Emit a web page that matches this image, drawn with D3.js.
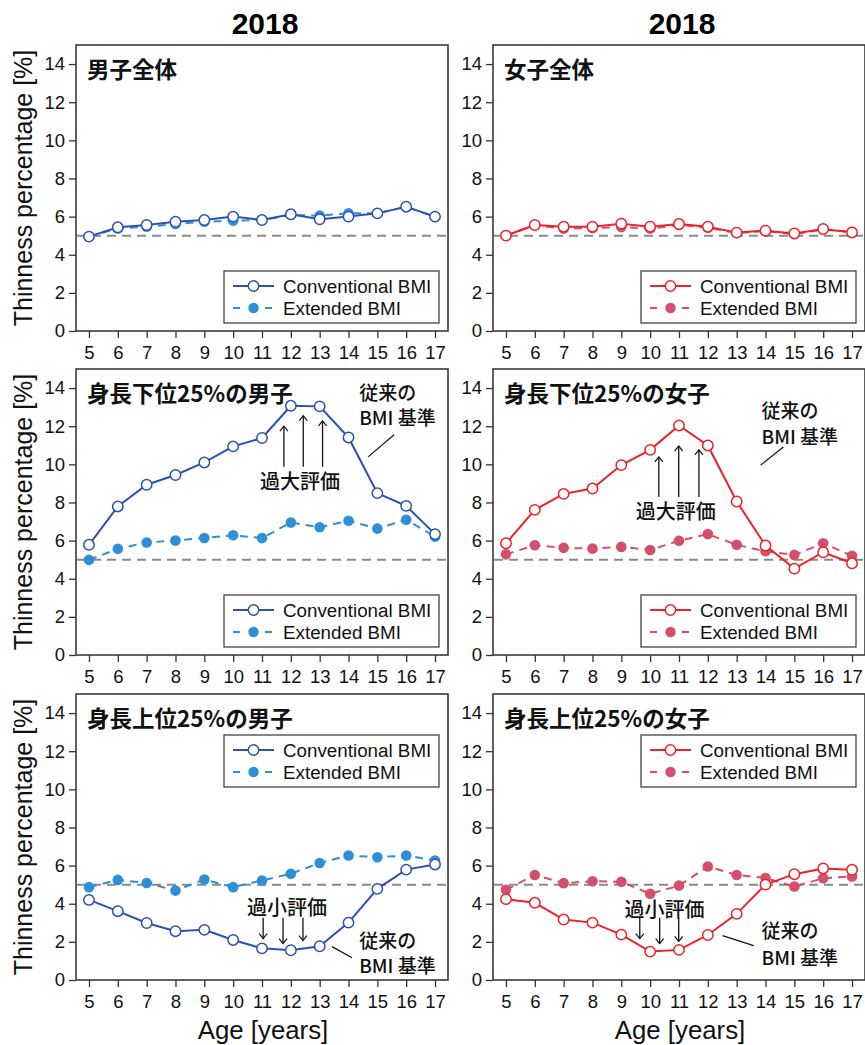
<!DOCTYPE html>
<html>
<head>
<meta charset="utf-8">
<script src="https://cdn.jsdelivr.net/npm/d3@7"></script>
<style>
  body { margin: 0; background: #fff; }
  svg { display: block; }
</style>
</head>
<body>
<div id="chart"></div>
<script>
// ages on the x axis
const ages = [5, 6, 7, 8, 9, 10, 11, 12, 13, 14, 15, 16, 17];
const yTicks = [0, 2, 4, 6, 8, 10, 12, 14];
const columnTitles = ["2018", "2018"];
const panelTitles = ["男子全体", "女子全体", "身長下位25%の男子", "身長下位25%の女子", "身長上位25%の男子", "身長上位25%の女子"];
const seriesNames = ["Conventional BMI", "Extended BMI"];
const refLine = 5;

// thinness percentage [%]
const boysAllConv   = [4.95, 5.44, 5.56, 5.73, 5.82, 6.0, 5.82, 6.12, 5.86, 6.0, 6.17, 6.52, 6.0];
const boysAllExt    = [4.95, 5.38, 5.47, 5.61, 5.73, 5.79, 5.82, 6.08, 6.05, 6.17, 6.17, 6.52, 5.98];
const girlsAllConv  = [5.0, 5.56, 5.47, 5.47, 5.63, 5.47, 5.61, 5.47, 5.16, 5.26, 5.12, 5.35, 5.17];
const girlsAllExt   = [5.0, 5.56, 5.37, 5.4, 5.45, 5.37, 5.56, 5.42, 5.14, 5.24, 5.08, 5.33, 5.2];
const boysShortConv = [5.78, 7.79, 8.93, 9.44, 10.1, 10.94, 11.38, 13.07, 13.04, 11.41, 8.49, 7.82, 6.34];
const boysShortExt  = [4.99, 5.57, 5.9, 6.0, 6.14, 6.28, 6.13, 6.95, 6.7, 7.04, 6.63, 7.09, 6.21];
const girlsShortConv = [5.86, 7.61, 8.45, 8.73, 9.96, 10.76, 12.04, 10.99, 8.05, 5.74, 4.53, 5.39, 4.81];
const girlsShortExt  = [5.28, 5.76, 5.62, 5.58, 5.67, 5.51, 5.99, 6.34, 5.78, 5.44, 5.25, 5.86, 5.2];
const boysTallConv  = [4.2, 3.61, 2.99, 2.56, 2.63, 2.1, 1.66, 1.56, 1.77, 3.01, 4.78, 5.79, 6.06];
const boysTallExt   = [4.87, 5.25, 5.09, 4.69, 5.27, 4.87, 5.22, 5.57, 6.14, 6.53, 6.44, 6.53, 6.27];
const girlsTallConv = [4.24, 4.05, 3.17, 3.01, 2.38, 1.49, 1.58, 2.36, 3.47, 5.0, 5.55, 5.85, 5.78];
const girlsTallExt  = [4.73, 5.51, 5.08, 5.18, 5.15, 4.52, 4.95, 5.95, 5.51, 5.35, 4.9, 5.34, 5.43];

// annotation anchors in data units [age, %]
const arrowAges   = [[11.76, 12.43, 13.1], [10.3, 10.99, 11.69], [11.04, 11.73, 12.42], [9.64, 10.33, 10.99]];
const arrowFrom   = [[9.87, 9.87, 9.87], [8.29, 8.29, 8.29], [3.27, 3.27, 3.27], [3.27, 3.27, 3.27]];
const arrowTo     = [[12.0, 12.55, 12.28], [10.39, 10.96, 10.76], [2.17, 1.91, 2.07], [2.17, 1.91, 2.02]];
const evalText    = ["過大評価", "過大評価", "過小評価", "過小評価"];
const evalPos     = [[12.32, 9.08], [10.89, 7.5], [11.87, 3.79], [10.5, 3.69]];
const noteLines   = ["従来の", "BMI 基準"];
const notePos     = [[14.37, 13.75, 12.44], [13.86, 12.8, 11.43], [14.37, 2.06, 0.7], [13.86, 2.54, 1.17]];
const leaderLines = [[14.68, 10.39, 15.58, 11.55], [13.83, 9.96, 14.62, 10.91], [13.43, 1.75, 14.12, 1.17], [12.51, 2.33, 13.59, 1.8]];

const panels = [
  { conv: boysAllConv, ext: boysAllExt, boy: true, legendTop: false, note: -1 },
  { conv: girlsAllConv, ext: girlsAllExt, boy: false, legendTop: false, note: -1 },
  { conv: boysShortConv, ext: boysShortExt, boy: true, legendTop: false, note: 0 },
  { conv: girlsShortConv, ext: girlsShortExt, boy: false, legendTop: false, note: 1 },
  { conv: boysTallConv, ext: boysTallExt, boy: true, legendTop: true, note: 2 },
  { conv: girlsTallConv, ext: girlsTallExt, boy: false, legendTop: true, note: 3 }
];

const colors = {
  boyConv: "#2a52b2", boyExt: "#2f8fd6",
  girlConv: "#ea2328", girlExt: "#d44f69"
};

const W = 865, H = 1045;
const colX = [76, 493];
const rowY = [45, 369, 694];
const pw = 372, ph = 286;
const latin = "'Liberation Sans', Arial, sans-serif";
const cjk = "'Noto Sans CJK JP', 'Noto Sans', sans-serif";

const svg = d3.select("#chart").append("svg")
  .attr("width", W).attr("height", H);

svg.append("defs").append("marker")
  .attr("id", "arrowhead")
  .attr("viewBox", "-6 -5 7 10")
  .attr("refX", 0).attr("refY", 0)
  .attr("markerWidth", 7).attr("markerHeight", 10)
  .attr("markerUnits", "userSpaceOnUse")
  .attr("orient", "auto")
  .append("path")
  .attr("d", "M-5,-4 L0,0 L-5,4")
  .attr("fill", "none")
  .attr("stroke", "#111")
  .attr("stroke-width", 1.2);

// column titles
columnTitles.forEach((t, i) => {
  svg.append("text")
    .attr("x", colX[i] + pw / 2 + 3).attr("y", 34)
    .attr("text-anchor", "middle")
    .attr("font-family", latin).attr("font-weight", "bold").attr("font-size", 30)
    .text(t);
});

panels.forEach((p, i) => {
  const col = i % 2, row = Math.floor(i / 2);
  const g = svg.append("g").attr("transform", `translate(${colX[col]},${rowY[row]})`);

  const x = d3.scaleLinear().domain([4.55, 17.45]).range([0, pw]);
  const y = d3.scaleLinear().domain([0, 15]).range([ph, 0]);

  const cConv = p.boy ? colors.boyConv : colors.girlConv;
  const cExt = p.boy ? colors.boyExt : colors.girlExt;

  // axes
  const xAxis = g.append("g").attr("transform", `translate(0,${ph})`)
    .call(d3.axisBottom(x).tickValues(ages).tickSize(7).tickPadding(4).tickFormat(d3.format("d")));
  const yAxis = g.append("g")
    .call(d3.axisLeft(y).tickValues(yTicks).tickSize(7).tickPadding(4));
  [xAxis, yAxis].forEach(a => {
    a.select(".domain").remove();
    a.selectAll("line").attr("stroke", "#333").attr("stroke-width", 1.3);
    a.selectAll("text").attr("font-family", latin).attr("font-size", 18.5).attr("fill", "#111");
  });
  xAxis.selectAll("text").attr("dy", "0.9em");

  // frame
  g.append("rect")
    .attr("width", pw).attr("height", ph)
    .attr("fill", "none").attr("stroke", "#3a3a3a").attr("stroke-width", 1.6);

  // reference line at 5%
  g.append("line")
    .attr("x1", 1).attr("x2", pw - 1)
    .attr("y1", y(refLine)).attr("y2", y(refLine))
    .attr("stroke", "#8a8a8a").attr("stroke-width", 2)
    .attr("stroke-dasharray", "9,6");

  const line = d3.line().x((d, j) => x(ages[j])).y(d => y(d));

  // extended BMI (dashed, filled dots)
  g.append("path").datum(p.ext)
    .attr("d", line).attr("fill", "none")
    .attr("stroke", cExt).attr("stroke-width", 2).attr("stroke-dasharray", "8,6");
  g.append("g").selectAll("circle").data(p.ext).join("circle")
    .attr("cx", (d, j) => x(ages[j])).attr("cy", d => y(d))
    .attr("r", 5.3).attr("fill", cExt);

  // conventional BMI (solid, open circles)
  g.append("path").datum(p.conv)
    .attr("d", line).attr("fill", "none")
    .attr("stroke", cConv).attr("stroke-width", 2);
  g.append("g").selectAll("circle").data(p.conv).join("circle")
    .attr("cx", (d, j) => x(ages[j])).attr("cy", d => y(d))
    .attr("r", 5.2).attr("fill", "#fff").attr("stroke", cConv).attr("stroke-width", 1.5);

  // panel label
  g.append("text")
    .attr("x", 11).attr("y", 33)
    .attr("font-family", cjk).attr("font-weight", "bold").attr("font-size", 22.5)
    .attr("fill", "#111")
    .text(panelTitles[i]);

  // legend
  const lw = 215, lh = 52;
  const lx = pw - 9 - lw;
  const ly = p.legendTop ? 41 : ph - 8 - lh;
  const lg = g.append("g").attr("transform", `translate(${lx},${ly})`);
  lg.append("rect").attr("width", lw).attr("height", lh)
    .attr("fill", "#fff").attr("stroke", "#444").attr("stroke-width", 1.3);
  seriesNames.forEach((name, k) => {
    const yy = 15 + k * 22;
    const c = k === 0 ? cConv : cExt;
    lg.append("line").attr("x1", 9).attr("x2", 50).attr("y1", yy).attr("y2", yy)
      .attr("stroke", c).attr("stroke-width", 2)
      .attr("stroke-dasharray", k === 0 ? null : "7,9");
    const m = lg.append("circle").attr("cx", 29.5).attr("cy", yy).attr("r", 5.2);
    if (k === 0) m.attr("fill", "#fff").attr("stroke", c).attr("stroke-width", 1.5);
    else m.attr("fill", c);
    lg.append("text").attr("x", 59).attr("y", yy).attr("dy", "0.36em")
      .attr("font-family", latin).attr("font-size", 18.8).attr("fill", "#111")
      .text(name);
  });

  // annotations
  if (p.note >= 0) {
    const n = p.note;
    arrowAges[n].forEach((a, k) => {
      g.append("line")
        .attr("x1", x(a)).attr("x2", x(a))
        .attr("y1", y(arrowFrom[n][k])).attr("y2", y(arrowTo[n][k]))
        .attr("stroke", "#111").attr("stroke-width", 1.3)
        .attr("marker-end", "url(#arrowhead)");
    });
    g.append("text")
      .attr("x", x(evalPos[n][0])).attr("y", y(evalPos[n][1])).attr("dy", "0.36em")
      .attr("text-anchor", "middle")
      .attr("font-family", cjk).attr("font-weight", 500).attr("font-size", 20)
      .attr("fill", "#111")
      .text(evalText[n]);
    noteLines.forEach((t, k) => {
      g.append("text")
        .attr("x", x(notePos[n][0])).attr("y", y(notePos[n][k + 1])).attr("dy", "0.36em")
        .attr("font-family", cjk).attr("font-weight", 500).attr("font-size", 19)
        .attr("fill", "#111")
        .text(t);
    });
    const L = leaderLines[n];
    g.append("line")
      .attr("x1", x(L[0])).attr("y1", y(L[1]))
      .attr("x2", x(L[2])).attr("y2", y(L[3]))
      .attr("stroke", "#111").attr("stroke-width", 1.2);
  }
});

// y axis titles
rowY.forEach(top => {
  svg.append("text")
    .attr("transform", `translate(32,${top + ph / 2}) rotate(-90)`)
    .attr("text-anchor", "middle")
    .attr("font-family", latin).attr("font-size", 25).attr("fill", "#111")
    .text("Thinness percentage [%]");
});

// x axis titles
colX.forEach(left => {
  svg.append("text")
    .attr("x", left + pw / 2 + 1).attr("y", 1039)
    .attr("text-anchor", "middle")
    .attr("font-family", latin).attr("font-size", 25.8).attr("fill", "#111")
    .text("Age [years]");
});
</script>
</body>
</html>
